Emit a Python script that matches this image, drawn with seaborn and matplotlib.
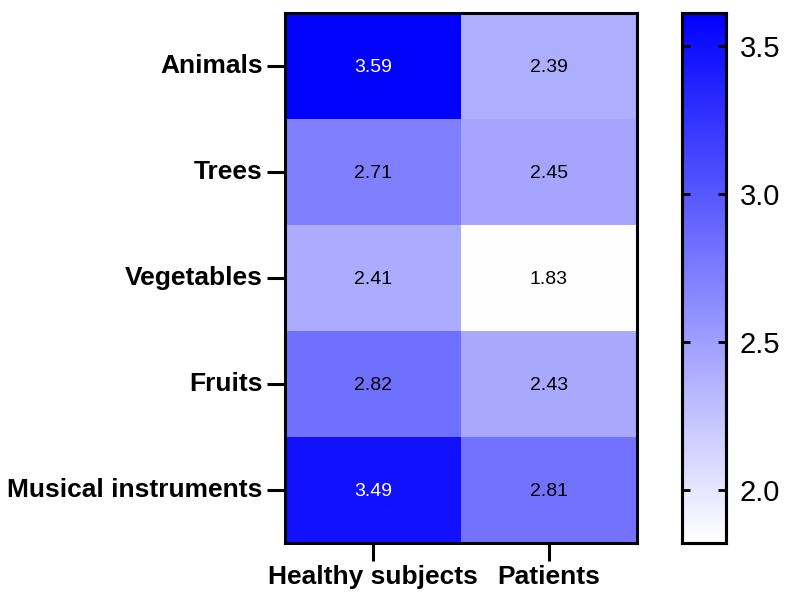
import matplotlib.pyplot as plt
import matplotlib.colors as mcolors
import numpy as np
import pandas as pd
import seaborn as sns

categories = ['Animals', 'Trees', 'Vegetables', 'Fruits', 'Musical instruments']
groups = ['Healthy subjects', 'Patients']
healthy = [3.59, 2.71, 2.41, 2.82, 3.49]
patients = [2.39, 2.45, 1.83, 2.43, 2.81]

df = pd.DataFrame({'Healthy subjects': healthy, 'Patients': patients}, index=categories)

sns.set_theme(style='white', rc={'text.color': 'black', 'xtick.color': 'black',
                                 'ytick.color': 'black', 'axes.labelcolor': 'black'})
plt.rcParams['font.family'] = ['Liberation Sans', 'DejaVu Sans']

cmap = mcolors.LinearSegmentedColormap.from_list('wb', ['#ffffff', '#0000ff'])

fig = plt.figure(figsize=(7.86, 5.92), dpi=100)
ax = fig.add_axes([0.3626, 0.0828, 0.4478, 0.8953])
cax = fig.add_axes([0.8677, 0.0828, 0.056, 0.8953])

sns.heatmap(df, ax=ax, cbar_ax=cax, cmap=cmap, vmin=1.82, vmax=3.61,
            annot=True, fmt='.2f', annot_kws={'fontsize': 14, 'va': 'center_baseline'})

# white text on the darkest cells
for t, v in zip(ax.texts, df.values.flatten()):
    t.set_color('white' if v > 3.2 else 'black')

for sp in ax.spines.values():
    sp.set_visible(True)
    sp.set_linewidth(2.2)
    sp.set_color('black')

ax.tick_params(axis='both', which='both', length=13, width=2.2, color='black',
               left=True, bottom=True, pad=3)
ax.set_yticklabels(categories, rotation=0, fontsize=19, fontweight='bold', color='black')
ax.set_xticklabels(groups, rotation=0, fontsize=19, fontweight='bold', color='black')
ax.set_xlabel('')
ax.set_ylabel('')

cax.set_axisbelow(False)
cax.yaxis.set_ticks_position('both')
cax.set_yticks([2.0, 2.5, 3.0, 3.5])
cax.set_yticklabels(['2.0', '2.5', '3.0', '3.5'])
cax.tick_params(axis='y', which='both', direction='in', length=6, width=2,
                labelsize=21, color='black', labelcolor='black',
                right=True, left=True, labelleft=False, labelright=True, pad=10)
for sp in cax.spines.values():
    sp.set_visible(True)
    sp.set_linewidth(2.2)
    sp.set_color('black')

plt.savefig('out.png', dpi=100)
